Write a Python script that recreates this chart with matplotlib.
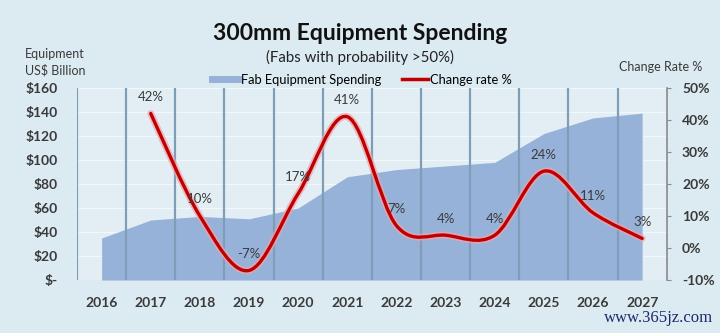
import matplotlib
matplotlib.use("Agg")
import matplotlib.pyplot as plt
from matplotlib.path import Path
from matplotlib.patches import PathPatch
from matplotlib.lines import Line2D
import numpy as np

YEARS = ["2016", "2017", "2018", "2019", "2020", "2021", "2022", "2023", "2024", "2025", "2026", "2027"]
SPENDING = [35, 50, 53, 51, 60, 86, 92, 95, 98, 122, 135, 139]
CHANGE_YEARS = YEARS[1:]
CHANGE = [42, 10, -7, 17, 41, 7, 4, 4, 24, 11, 3]
LEFT_TICKS = [0, 20, 40, 60, 80, 100, 120, 140, 160]
RIGHT_TICKS = [-10, 0, 10, 20, 30, 40, 50]

BG = "#dceaf1"
AREA = "#97b2d9"
RED = "#c00000"
GRID_V = "#7f9db6"
TXT = "#3a3a3a"

plt.rcParams["font.family"] = ["Lato", "DejaVu Sans"]


def smooth_path(xs, ys):
    # Excel-style smoothed line: cubic Bezier through every point
    pts = np.column_stack([xs, ys]).astype(float)
    n = len(pts)
    verts = [pts[0]]
    codes = [Path.MOVETO]
    for i in range(n - 1):
        p0 = pts[max(i - 1, 0)]
        p1 = pts[i]
        p2 = pts[i + 1]
        p3 = pts[min(i + 2, n - 1)]
        c1 = p1 + (p2 - p0) / 6
        c2 = p2 - (p3 - p1) / 6
        verts += [c1, c2, p2]
        codes += [Path.CURVE4] * 3
    return Path(verts, codes)


fig = plt.figure(figsize=(7.2, 3.33), dpi=100, facecolor=BG)
ax = fig.add_axes([0.107, 0.159, 0.819, 0.577])
ax.set_facecolor("#e2eef4")
x = np.arange(len(YEARS))

ax.fill_between(x, SPENDING, 0, color=AREA, lw=0, zorder=2)
ax.set_xlim(-0.5, len(YEARS) - 0.5)
ax.set_ylim(0, 160)
ax.set_yticks(LEFT_TICKS)
ax.set_yticklabels(["$-" if v == 0 else f"${v}" for v in LEFT_TICKS])
ax.set_xticks(x)
ax.set_xticklabels(YEARS)
for yv in LEFT_TICKS[1:]:
    ax.axhline(yv, color="#f2f7fa", lw=0.8, zorder=1)
for xv in np.arange(-0.5, len(YEARS) - 1, 1.0):
    ax.axvline(xv, color=GRID_V, lw=1.6, zorder=3)
ax.tick_params(axis="both", length=0, labelsize=10, labelcolor=TXT)
ax.tick_params(axis="y", pad=14)
ax.tick_params(axis="x", pad=12)
for lab in ax.get_xticklabels() + ax.get_yticklabels():
    lab.set_fontweight("bold")
for s in ax.spines.values():
    s.set_visible(False)

ax2 = ax.twinx()
ax2.set_ylim(-10, 50)
ax2.set_yticks(RIGHT_TICKS)
ax2.set_yticklabels([f"{v}%" for v in RIGHT_TICKS])
ax2.tick_params(axis="y", length=3, color="#8a8a8a", labelsize=10, labelcolor=TXT, pad=8)
for lab in ax2.get_yticklabels():
    lab.set_fontweight("bold")
for k, s in ax2.spines.items():
    s.set_visible(k == "right")
ax2.spines["right"].set_color("#8a8a8a")
ax2.spines["right"].set_linewidth(1.2)

cx = [YEARS.index(y) for y in CHANGE_YEARS]
path = smooth_path(cx, CHANGE)
ax2.add_patch(PathPatch(path, fill=False, ec="#f0a3ab", lw=5, alpha=0.7, zorder=4,
                        capstyle="round"))
ax2.add_patch(PathPatch(path, fill=False, ec=RED, lw=2.4, zorder=5, capstyle="round"))
for xi, v in zip(cx, CHANGE):
    ax2.annotate(f"{v}%", (xi, v), xytext=(0, 12), textcoords="offset points",
                 ha="center", va="center", fontsize=9.5, color=TXT, zorder=6)

fig.text(0.5, 0.9, "300mm Equipment Spending", ha="center", va="center",
         fontsize=16.5, fontweight="bold", color="#111111")
fig.text(0.5, 0.826, "(Fabs with probability >50%)", ha="center", va="center",
         fontsize=10.8, color="#222222")
fig.text(0.035, 0.812, "Equipment\nUS$ Billion", ha="left", va="center",
         fontsize=9, color=TXT, linespacing=1.4)
fig.text(0.975, 0.8, "Change Rate %", ha="right", va="center", fontsize=9, color=TXT)

handles = [Line2D([], [], color=AREA, lw=5), Line2D([], [], color=RED, lw=2.5)]
fig.legend(handles, ["Fab Equipment Spending", "Change rate %"], loc="center",
           bbox_to_anchor=(0.503, 0.76), ncol=2, frameon=False, fontsize=9.3,
           handlelength=2.0, handletextpad=0.2, columnspacing=1.6,
           borderpad=0, borderaxespad=0)

fig.text(0.99, 0.045, "www.365jz.com", ha="right", va="center", fontsize=12,
         color="#1d2b6e", family=["Liberation Serif", "DejaVu Serif"])

fig.savefig("out.png", dpi=100, facecolor=BG)
